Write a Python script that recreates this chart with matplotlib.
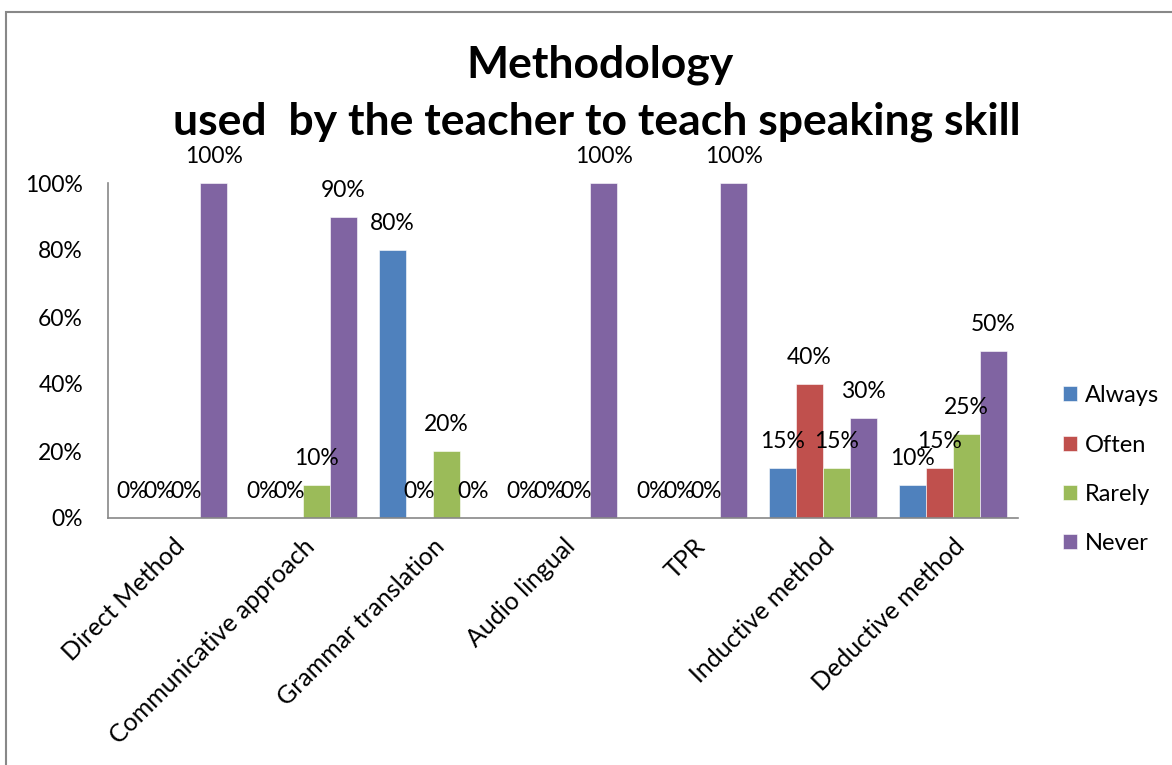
import matplotlib
matplotlib.use("Agg")
import matplotlib.pyplot as plt
import numpy as np
from matplotlib.patches import Rectangle

categories = ["Direct Method", "Communicative approach", "Grammar translation",
              "Audio lingual", "TPR", "Inductive method", "Deductive method"]
series_names = ["Always", "Often", "Rarely", "Never"]
always = [0, 0, 80, 0, 0, 15, 10]
often = [0, 0, 0, 0, 0, 40, 15]
rarely = [0, 10, 20, 0, 0, 15, 25]
never = [100, 90, 0, 100, 100, 30, 50]
colors = ["#4F81BD", "#C0504D", "#9BBB59", "#8064A2"]
yticks = [0, 20, 40, 60, 80, 100]

plt.rcParams['font.family'] = ['Lato', 'DejaVu Sans']

fig = plt.figure(figsize=(11.72, 7.65), dpi=100)
# outer border
fig.patches.append(Rectangle((6/1172, -0.05), 1.1, (765-12)/765 + 0.05, transform=fig.transFigure,
                             fill=False, edgecolor="#888888", linewidth=1.5))

ax = fig.add_axes([108/1172, 1 - 518/765, (1018-108)/1172, (518-183)/765])
x = np.arange(len(categories))
w = 0.208
data = [always, often, rarely, never]
for i, (name, vals, c) in enumerate(zip(series_names, data, colors)):
    pos = x + (i - 1.5) * w
    ax.bar(pos, vals, width=w, color=c, label=name, edgecolor="white", linewidth=0.4)
    for px, v in zip(pos, vals):
        ax.annotate(f"{v}%", (px, v), xytext=(0, 19), textcoords="offset points",
                    ha="center", va="center", fontsize=16.5, color="black")

ax.set_xlim(-0.5, len(categories) - 0.5)
ax.set_ylim(0, 100)
ax.set_yticks(yticks)
ax.set_yticklabels([f"{t}%" for t in yticks], fontsize=16.5)
ax.set_xticks(x)
ax.set_xticklabels(categories, rotation=45, ha="right", rotation_mode="anchor", fontsize=18)
ax.tick_params(axis="x", length=0, pad=12)
ax.tick_params(axis="y", length=0, pad=18)
for s in ["top", "right"]:
    ax.spines[s].set_visible(False)
for s in ["left", "bottom"]:
    ax.spines[s].set_color("#888888")
    ax.spines[s].set_linewidth(1.2)

fig.text(600/1172, 1 - 65/765, "Methodology", ha="center", va="center", fontsize=32, fontweight="bold")
fig.text(597/1172, 1 - 122/765, "used  by the teacher to teach speaking skill", ha="center", va="center",
         fontsize=32, fontweight="bold")

leg = fig.legend(loc="upper left", bbox_to_anchor=(1042/1172, 1 - 364/765), frameon=False,
                 fontsize=17, handlelength=0.6, handleheight=0.6, labelspacing=1.2, handletextpad=0.3)

fig.savefig("out.png", dpi=100)
